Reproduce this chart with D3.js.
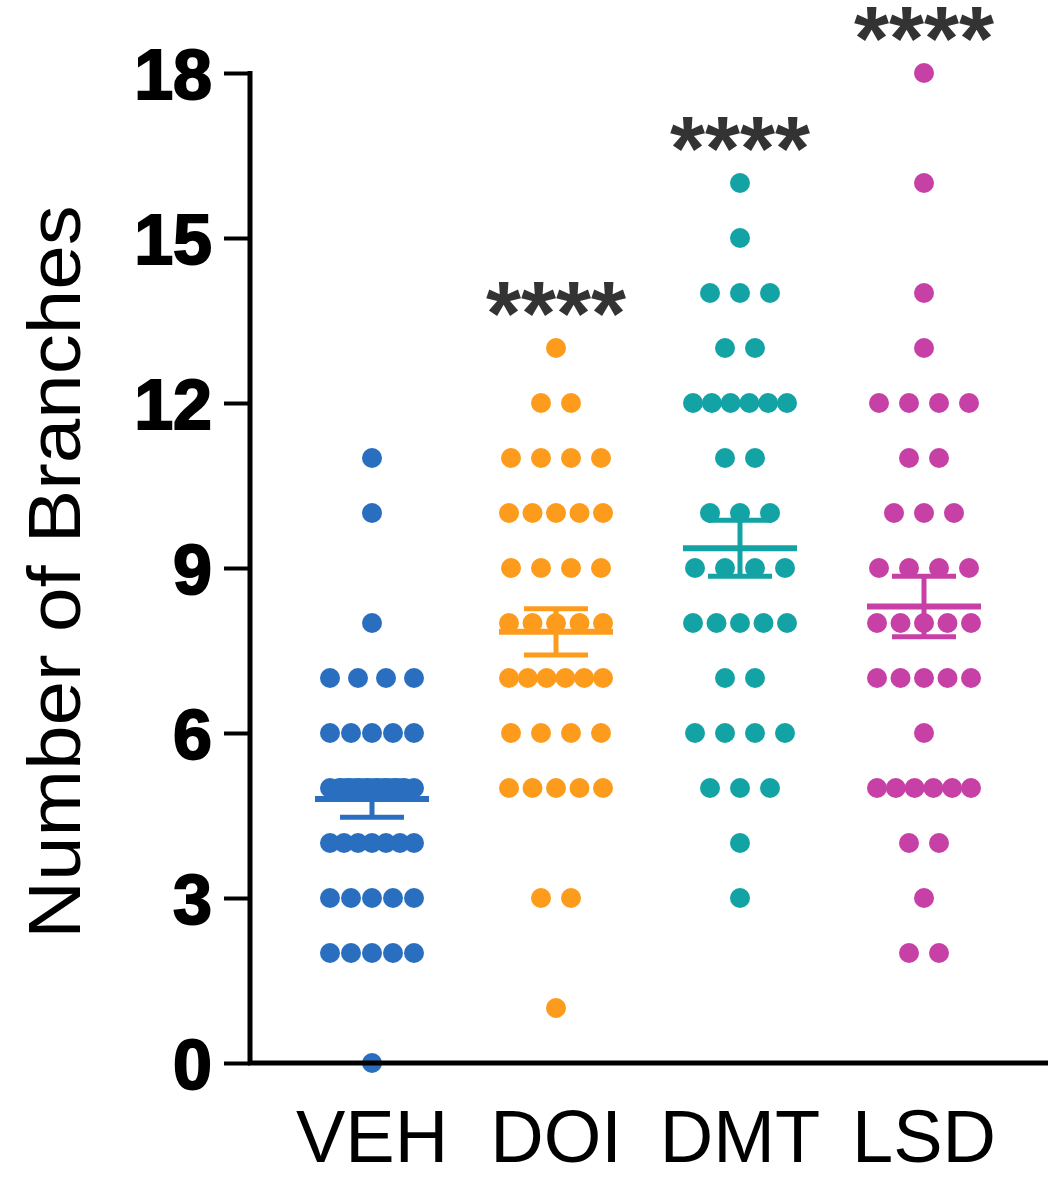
<!DOCTYPE html>
<html>
<head>
<meta charset="utf-8">
<script src="https://cdn.jsdelivr.net/npm/d3@7"></script>
<style>
  html, body { margin: 0; padding: 0; background: #fff; }
  svg { display: block; }
</style>
</head>
<body>
<svg id="chart" width="1048" height="1177"></svg>
<script>
// ---------- data ----------
const categories = ["VEH", "DOI", "DMT", "LSD"];
const colors = ["#2a6fbf", "#fd9c1c", "#14a3a5", "#c640a6"];
const vehValues = [11, 10, 8, 7, 7, 7, 7, 6, 6, 6, 6, 6, 5, 5, 5, 5, 5, 5, 5, 5, 5, 5,
  4, 4, 4, 4, 4, 4, 4, 3, 3, 3, 3, 3, 2, 2, 2, 2, 2, 0];
const doiValues = [13, 12, 12, 11, 11, 11, 11, 10, 10, 10, 10, 10, 9, 9, 9, 9,
  8, 8, 8, 8, 8, 7, 7, 7, 7, 7, 7, 6, 6, 6, 6, 5, 5, 5, 5, 5, 3, 3, 1];
const dmtValues = [16, 15, 14, 14, 14, 13, 13, 12, 12, 12, 12, 12, 12, 11, 11,
  10, 10, 10, 9, 9, 9, 9, 8, 8, 8, 8, 8, 7, 7, 6, 6, 6, 6, 5, 5, 5, 4, 3];
const lsdValues = [18, 16, 14, 13, 12, 12, 12, 12, 11, 11, 10, 10, 10, 9, 9, 9, 9,
  8, 8, 8, 8, 8, 7, 7, 7, 7, 7, 6, 5, 5, 5, 5, 5, 5, 4, 4, 3, 2, 2];
const groupValues = [vehValues, doiValues, dmtValues, lsdValues];
const means = [4.8, 7.84, 9.36, 8.3];
const sems = [0.33, 0.42, 0.51, 0.55];
const significance = ["", "****", "****", "****"];
const yTicks = [0, 3, 6, 9, 12, 15, 18];
const yLabel = "Number of Branches";

// ---------- layout ----------
const svg = d3.select("#chart");
const y = d3.scaleLinear().domain([0, 18]).range([1063, 73]);
const x = d3.scalePoint().domain(categories).range([372, 924]);
const axisX = 250;
const dotR = 10;

// dots
categories.forEach((cat, gi) => {
  const rows = d3.group(groupValues[gi], v => v);
  const maxSpan = gi === 0 ? 84 : 94;
  const pts = [];
  rows.forEach((arr, v) => {
    const n = arr.length;
    const s = n > 1 ? Math.min(30, maxSpan / (n - 1)) : 0;
    arr.forEach((_, i) => pts.push({ v, dx: (i - (n - 1) / 2) * s }));
  });
  svg.append("g").selectAll("circle").data(pts).join("circle")
    .attr("cx", d => x(cat) + d.dx)
    .attr("cy", d => y(d.v))
    .attr("r", dotR)
    .attr("fill", colors[gi]);
});

// mean + SEM
categories.forEach((cat, gi) => {
  const g = svg.append("g").attr("stroke", colors[gi]).attr("stroke-linecap", "butt");
  const cx = x(cat);
  g.append("line").attr("x1", cx - 57).attr("x2", cx + 57)
    .attr("y1", y(means[gi])).attr("y2", y(means[gi])).attr("stroke-width", 6);
  g.append("line").attr("x1", cx).attr("x2", cx)
    .attr("y1", y(means[gi] - sems[gi])).attr("y2", y(means[gi] + sems[gi])).attr("stroke-width", 5);
  [means[gi] - sems[gi], means[gi] + sems[gi]].forEach(v => {
    g.append("line").attr("x1", cx - 32).attr("x2", cx + 32)
      .attr("y1", y(v)).attr("y2", y(v)).attr("stroke-width", 5);
  });
});

// significance stars
categories.forEach((cat, gi) => {
  if (!significance[gi]) return;
  const top = d3.max(groupValues[gi]);
  svg.append("text")
    .attr("x", x(cat))
    .attr("y", y(top) - 3)
    .attr("text-anchor", "middle")
    .attr("font-family", "Liberation Sans, Arial, sans-serif")
    .attr("font-weight", "bold")
    .attr("font-size", 90)
    .attr("fill", "#333")
    .text(significance[gi]);
});

// y axis
const yAxis = d3.axisLeft(y).tickValues(yTicks).tickSize(26).tickPadding(12);
const gy = svg.append("g").attr("transform", `translate(${axisX},0)`).call(yAxis);
gy.select(".domain").attr("stroke", "#000").attr("stroke-width", 5)
  .attr("d", `M0,${y(18) - 2}V${y(0)}`);
gy.selectAll(".tick line").attr("stroke", "#000").attr("stroke-width", 4);
gy.selectAll(".tick text")
  .attr("font-family", "Liberation Sans, Arial, sans-serif")
  .attr("font-weight", "bold")
  .attr("font-size", 70)
  .attr("fill", "#000")
  .attr("stroke", "#000").attr("stroke-width", 2)
  .attr("dy", "0.36em");

// x axis line
svg.append("line").attr("x1", axisX - 2).attr("x2", 1048)
  .attr("y1", y(0)).attr("y2", y(0))
  .attr("stroke", "#000").attr("stroke-width", 5);

// x labels
svg.append("g").selectAll("text").data(categories).join("text")
  .attr("x", d => x(d))
  .attr("y", 1162)
  .attr("text-anchor", "middle")
  .attr("font-family", "Liberation Sans, Arial, sans-serif")
  .attr("font-size", 74)
  .attr("fill", "#000")
  .text(d => d);

// y label
svg.append("text")
  .attr("transform", "translate(80,572) rotate(-90) scale(1,0.92)")
  .attr("text-anchor", "middle")
  .attr("font-family", "Liberation Sans, Arial, sans-serif")
  .attr("font-size", 80)
  .attr("fill", "#000")
  .text(yLabel);
</script>
</body>
</html>
